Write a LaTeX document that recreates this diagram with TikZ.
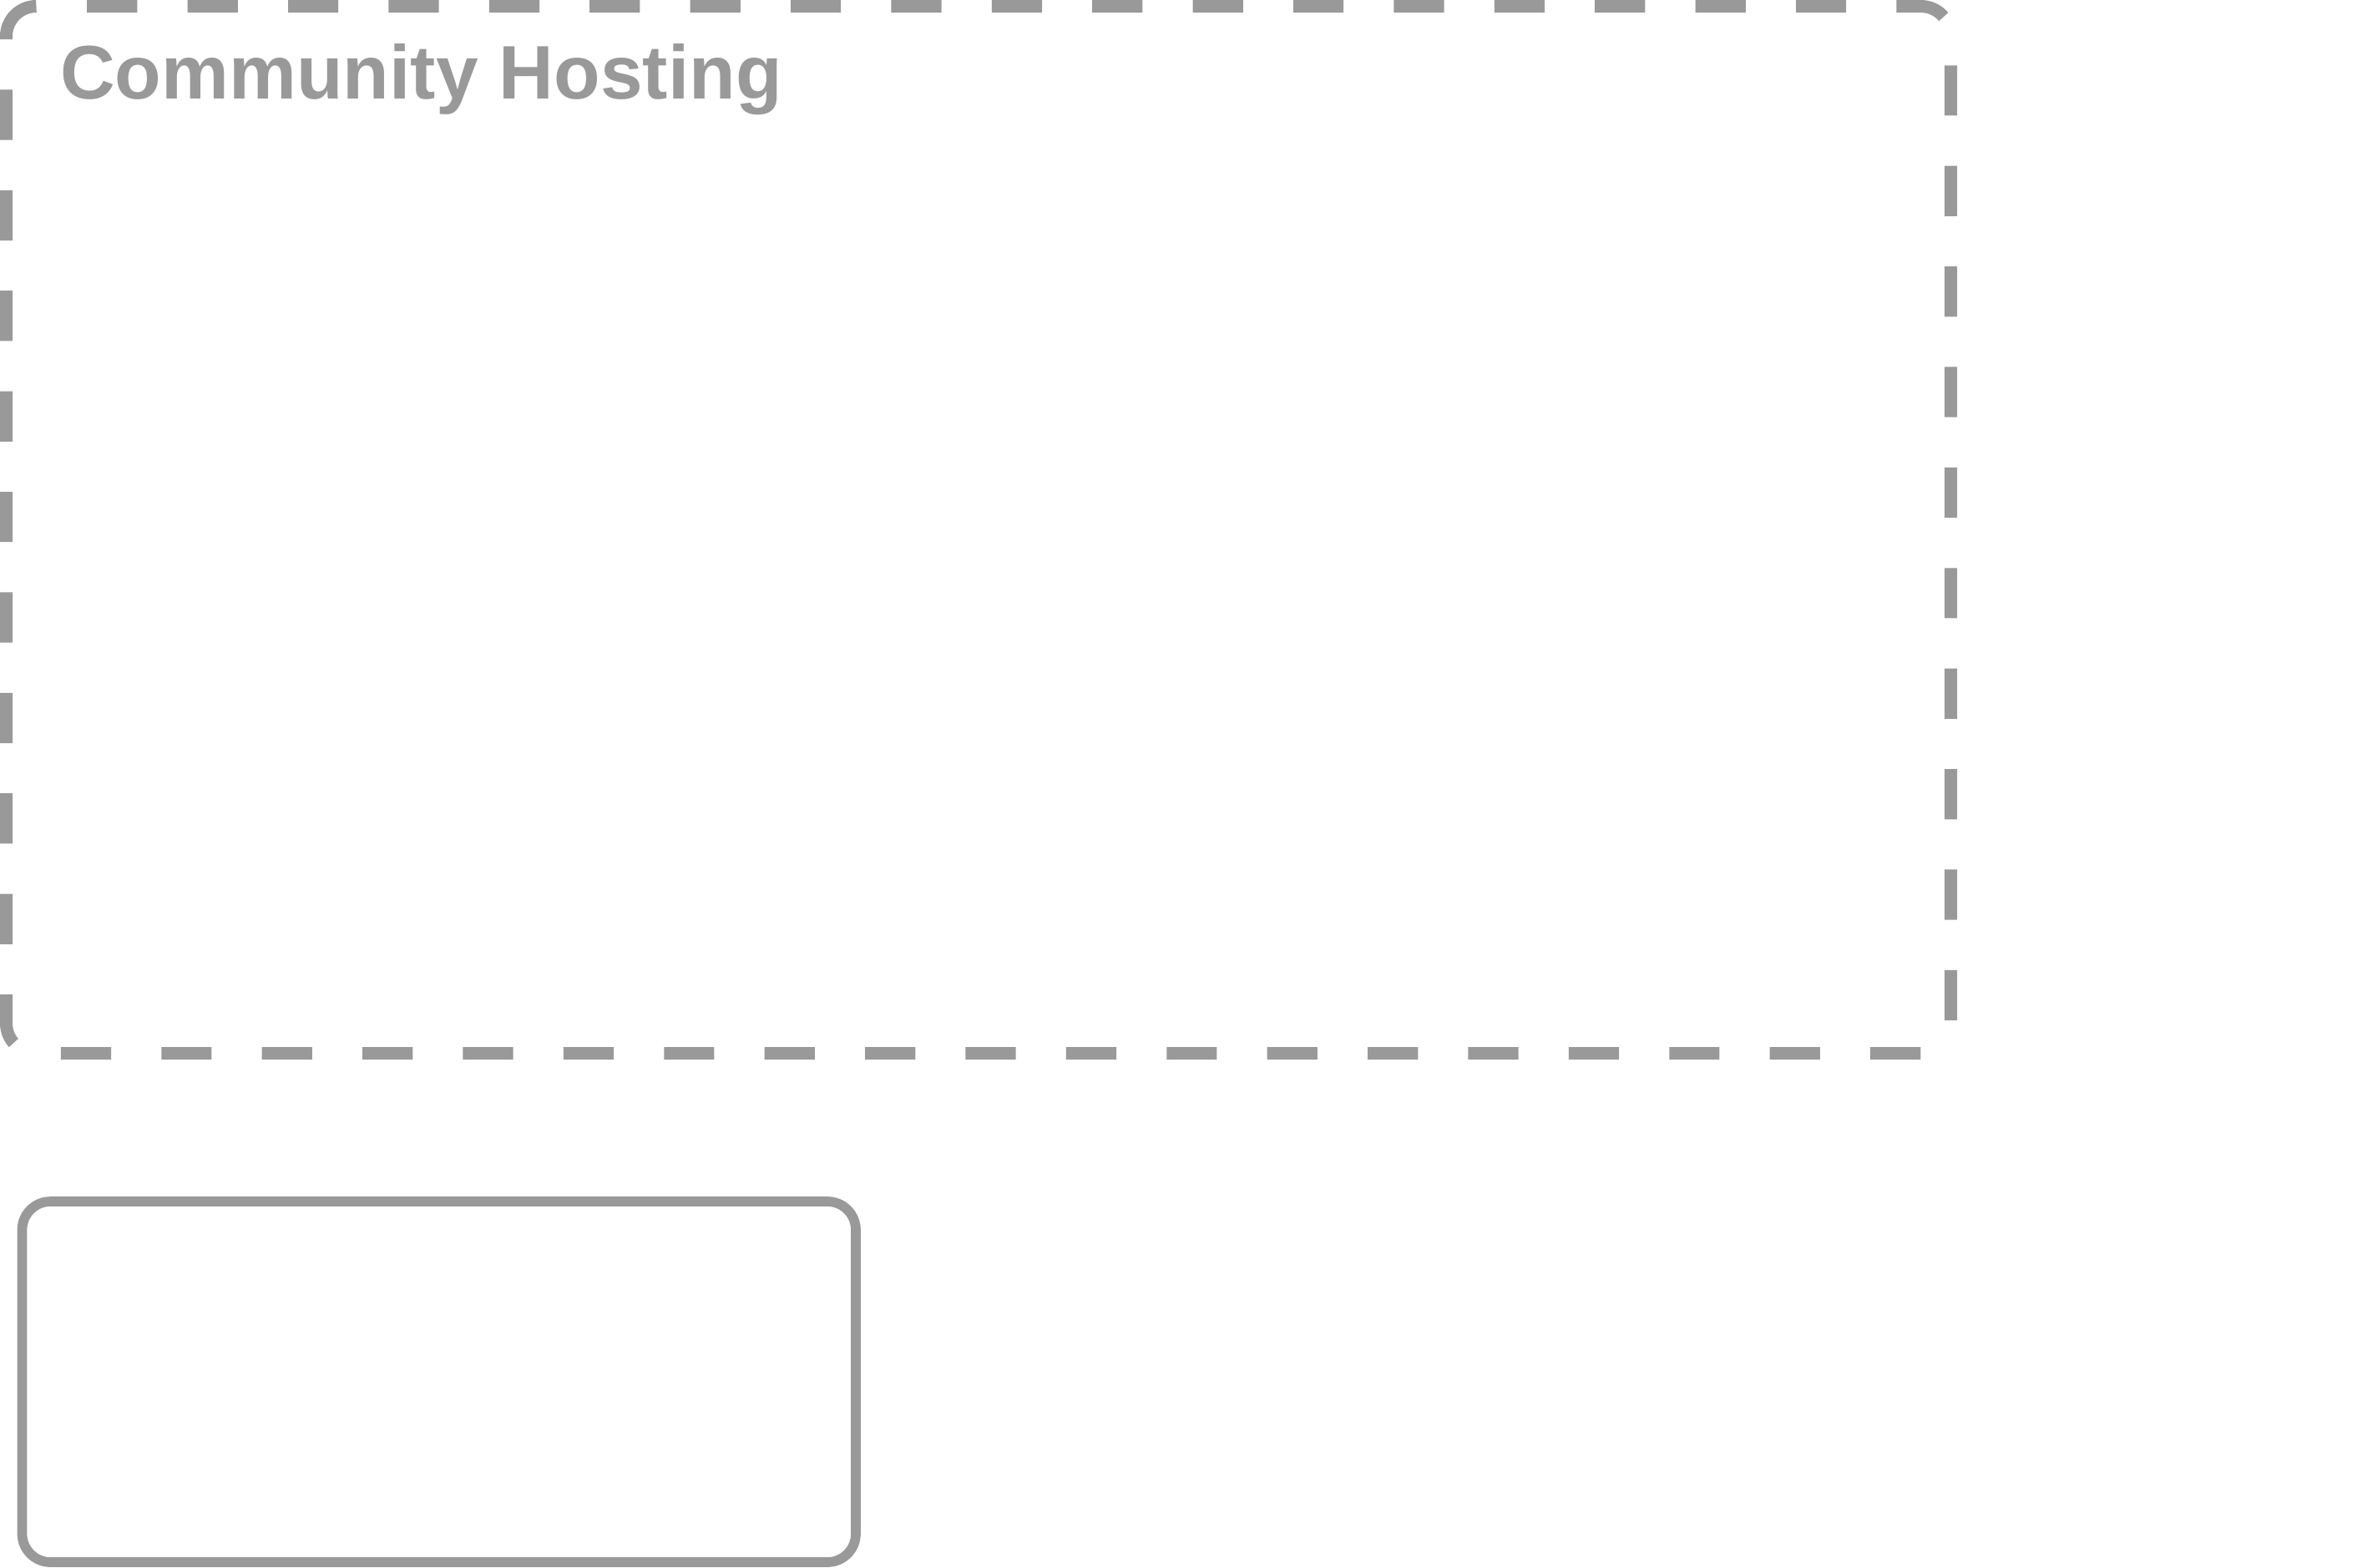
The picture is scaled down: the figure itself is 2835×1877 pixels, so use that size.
\documentclass[tikz,border=0pt]{standalone}
\usepackage{fontspec}
\setmainfont{Liberation Sans}
\definecolor{framegray}{RGB}{153,153,153}
\tikzset{
  hostframe/.style={draw=framegray, line width=15pt, line cap=butt, rounded corners=36pt,
    dash pattern=on 60.2pt off 60.2pt, dash phase=89.7pt},
  solidbox/.style={draw=framegray, line width=11.7pt, rounded corners=34pt, outer sep=0pt},
  grouplabel/.style={text=framegray, font=\fontsize{91pt}{100pt}\selectfont\bfseries, inner sep=0pt, anchor=base west}
}
\begin{document}
\begin{tikzpicture}[x=1pt,y=-1pt]
\useasboundingbox (0,0) rectangle (2835,1877);
\coordinate (hs) at (73.5,7.5);
\coordinate (htr) at (2336.5,7.5);
\coordinate (hbr) at (2336.5,1261.5);
\coordinate (hbl) at (7.5,1261.5);
\coordinate (htl) at (7.5,7.5);
\draw[hostframe] (hs) -- (htr) -- (hbr) -- (hbl) -- (htl) -- (hs);
\node[grouplabel] (title) at (72,118) {Community Hosting};
\node[solidbox, minimum width=998.5pt, minimum height=432pt, inner sep=0pt, anchor=north west] (box) at (26.5,1439) {};
\end{tikzpicture}
\end{document}
